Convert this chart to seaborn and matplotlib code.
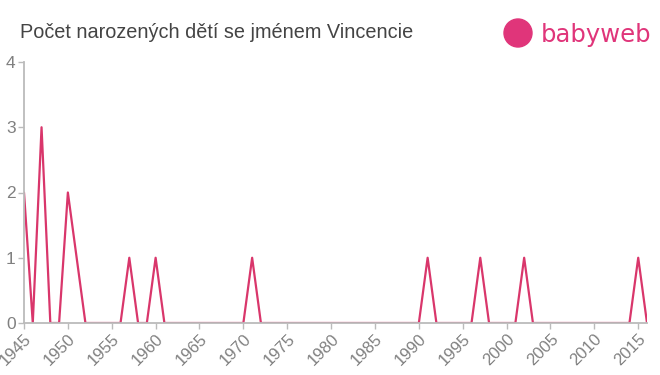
import matplotlib
matplotlib.use("Agg")
import matplotlib.pyplot as plt
import seaborn as sns
import pandas as pd
from matplotlib.patches import Ellipse

years = list(range(1945, 2017))
peaks = {1945: 2, 1947: 3, 1950: 2, 1951: 1, 1957: 1, 1960: 1, 1971: 1,
         1991: 1, 1997: 1, 2002: 1, 2015: 1}
counts = [peaks.get(y, 0) for y in years]
tick_years = list(range(1945, 2016, 5))
title = "Počet narozených dětí se jménem Vincencie"

df = pd.DataFrame({"rok": years, "pocet": counts})

sns.set_theme(style="white")
plt.rcParams['font.family'] = ['Liberation Sans', 'DejaVu Sans']

fig = plt.figure(figsize=(6.6, 3.75), dpi=100)
ax = fig.add_axes([24/660, 1-323/375, (647-24)/660, (323-62)/375])
sns.lineplot(data=df, x="rok", y="pocet", ax=ax, color="#d9366b", linewidth=1.6)

ax.set_xlim(1945, 2016)
ax.set_ylim(0, 4)
ax.set_xticks(tick_years)
ax.set_xticklabels([str(t) for t in tick_years], rotation=45, ha="right",
                   rotation_mode="anchor", color="#808080", fontsize=12)
ax.set_yticks([0, 1, 2, 3, 4])
ax.set_yticklabels(["0", "1", "2", "3", "4"], color="#808080", fontsize=12.5)
ax.set_xlabel("")
ax.set_ylabel("")
for s in ["top", "right"]:
    ax.spines[s].set_visible(False)
for s in ["left", "bottom"]:
    ax.spines[s].set_color("#bbbbbb")
    ax.spines[s].set_linewidth(1.3)
ax.tick_params(axis="both", which="both", length=4, color="#bbbbbb", width=1, pad=2,
               bottom=True, left=True)

fig.text(20/660, 1-32/375, title, fontsize=14.3, color="#444444", va="center", ha="left")

# logo
circ = Ellipse((518/660, 1-33/375), 28/660, 28/375, transform=fig.transFigure,
               color="#e0357a", zorder=5)
fig.patches.append(circ)
fig.text(541/660, 1-35/375, "babyweb", fontsize=17.5, color="#e0357a", va="center",
         ha="left", family="DejaVu Sans")

fig.savefig("out.png", dpi=100)
